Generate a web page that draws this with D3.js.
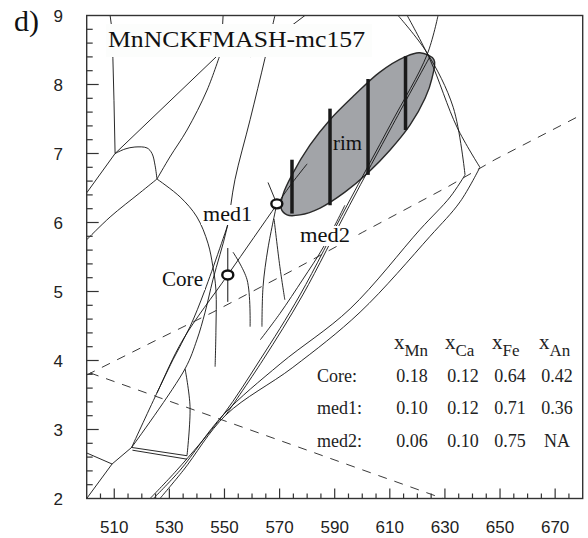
<!DOCTYPE html>
<html><head><meta charset="utf-8">
<script src="https://cdn.jsdelivr.net/npm/d3@7"></script>
<style>body{margin:0;background:#fff}</style>
</head><body>
<svg id="c" width="588" height="538"></svg>
<script>
// ---- data (T in °C, P in kbar) ----
const xTickLabels=[510,530,550,570,590,610,630,650,670];
const yTickLabels=[2,3,4,5,6,7,8,9];
const tableCols=["Mn","Ca","Fe","An"];
const tableRows=["Core:","med1:","med2:"];
const tableVals=[["0.18","0.12","0.64","0.42"],["0.10","0.12","0.71","0.36"],["0.06","0.10","0.75","NA"]];
const points=[{name:"med1",T:569.0,P:6.27},{name:"Core",T:551.2,P:5.24}];
const coreErr=[[551.2,5.63],[551.2,4.85]];
const rimEllipse=[[626.0,8.36],[625.3,8.09],[622.8,7.80],[617.3,7.41],[610.1,7.05],[602.1,6.72],[593.7,6.44],[584.7,6.21],[577.4,6.11],[572.7,6.11],[570.5,6.21],[571.2,6.40],[574.5,6.69],[581.0,7.12],[588.3,7.49],[597.3,7.85],[606.4,8.18],[615.5,8.40],[620.9,8.46]];
const rimBars=[[574.5,6.91,6.13],[588.3,7.65,6.25],[602.1,8.08,6.69],[615.7,8.41,7.34]];
const dashed1=[[500,3.79],[525.5,4.30],[545.8,4.70],[576.3,5.34],[600.2,5.86],[630.7,6.51],[648.1,6.91],[680,7.57]];
const dashed2=[[501.2,3.82],[629.3,2.0]];
const lineA=[[508.5,9.0],[509.2,8.79],[509.5,8.38],[509.9,7.77],[510.3,7.0]];
const lineB=[[510.3,7.0],[548.8,8.47],[549.5,9.0]];
const lineTop=[[559.3,8.40],[579.2,9.0]];
const lineC=[[525.5,6.63],[530.2,6.95],[536.4,7.34],[543.7,7.92],[548.7,8.47]];
const lineD=[[510.3,7.0],[500,6.43]];
const lineE=[[510.3,7.0],[513.9,7.065],[517.5,7.094],[521.9,7.08],[523.7,7.0],[524.8,6.83],[525.5,6.63]];
const lineF=[[525.5,6.63],[519.3,6.43],[508.5,6.08],[500,5.75]];
const lineG=[[525.5,6.63],[533.9,6.37],[540.0,6.08],[544.0,5.70],[545.8,5.36],[546.9,5.02],[546.9,4.44],[546.6,3.91]];
const lineH=[[568.3,9.0],[564.7,8.38],[559.3,7.49],[553.8,6.62],[550.9,5.92],[545.8,5.17],[542.9,4.69],[540.0,4.30],[535.7,3.88],[516.3,2.74]];
const lineH2=[[551.6,6.01],[542.9,5.02],[537.5,4.49],[531.3,4.01],[525.5,3.53]];
const lineCoreMed=[[516.3,2.74],[525.5,3.53],[534.9,4.30],[551.2,5.24],[569.0,6.26],[574.5,6.57],[580.0,6.85]];
const lineMedV=[[565.8,6.58],[569.0,6.27]];
const lineMedA=[[569.0,6.27],[565.8,5.63],[564.0,5.07],[563.6,4.49]];
const lineMedB=[[568.0,6.05],[570.1,5.36],[571.9,4.88]];
const lineMedC=[[553.1,5.57],[558.2,5.17],[559.3,4.49]];
const lineMed2=[[563.0,4.30],[570.1,4.68],[578.5,5.18],[585.7,5.63],[593.7,6.25]];
const lineJ3a=[[500,2.66],[509.2,2.50]];
const lineJ3b=[[500,2.0],[509.2,2.50],[516.3,2.74]];
const lineJ45a=[[516.3,2.74],[536.4,2.62]];
const lineJ45b=[[516.6,2.70],[536.4,2.57]];
const lineJ56=[[536.4,2.62],[537.5,3.33],[535.7,3.88]];
const bundle1=[[523.0,2.0],[532.7,2.41],[549.5,3.21],[562.9,4.01],[577.4,4.95],[594.5,6.25],[610.1,7.41],[623.5,8.43],[627.5,9.0]];
const bundle1b=[[550.5,3.21],[564.0,4.01],[578.4,4.95],[595.4,6.25],[611.0,7.41],[624.5,8.40]];
const bundle2=[[524.2,2.0],[533.9,2.41],[549.5,3.21],[570.2,3.95],[595.6,4.75],[621.0,5.90],[631.9,6.37],[637.3,6.69]];
const bundle2top=[[637.3,6.69],[633.0,7.67],[623.5,8.46],[613.0,9.0]];
const bundle3=[[526.6,2.0],[535.1,2.41],[550.5,3.21],[574.8,3.90],[599.2,4.70],[624.6,5.80],[635.5,6.30],[642.7,6.80]];
const bundle3top=[[642.7,6.80],[634.4,7.38],[624.6,8.36],[616.3,9.0]];

// ---- setup ----
const svg=d3.select("#c");
const x=d3.scaleLinear().domain([500,680]).range([86.7,582.7]);
const y=d3.scaleLinear().domain([2,9]).range([498.5,15.5]);
const line=d3.line().x(d=>x(d[0])).y(d=>y(d[1]));
const curve=d3.line().x(d=>x(d[0])).y(d=>y(d[1])).curve(d3.curveCatmullRom.alpha(0.5));
const closed=d3.line().x(d=>x(d[0])).y(d=>y(d[1])).curve(d3.curveCatmullRomClosed.alpha(0.5));

const g=svg.append("g");
g.append("path").attr("d",closed(rimEllipse)).attr("fill","#a2a4a8").attr("stroke","#2a2a2a").attr("stroke-width",1.4);

const thin=[lineA,lineB,lineTop,lineD,lineJ3a,lineJ3b,lineJ45a,lineJ45b,lineMedV];
const curvy=[lineC,lineE,lineF,lineG,lineH,lineH2,lineCoreMed,lineJ56,bundle1,bundle1b,bundle2,bundle2top,bundle3,bundle3top,lineMedA,lineMedB,lineMedC,lineMed2];
thin.forEach(l=>g.append("path").attr("d",line(l)).attr("fill","none").attr("stroke","#111").attr("stroke-width",0.9));
curvy.forEach(l=>g.append("path").attr("d",curve(l)).attr("fill","none").attr("stroke","#111").attr("stroke-width",0.9));
[dashed1,dashed2].forEach(l=>g.append("path").attr("d",line(l)).attr("fill","none").attr("stroke","#222").attr("stroke-width",0.9).attr("stroke-dasharray","9,8"));

rimBars.forEach(b=>g.append("line").attr("x1",x(b[0])).attr("x2",x(b[0])).attr("y1",y(b[1])).attr("y2",y(b[2])).attr("stroke","#1a1a1a").attr("stroke-width",3.5));
g.append("path").attr("d",line(coreErr)).attr("stroke","#111").attr("stroke-width",1);

function label(txt,x0,yb,w,size,bg){
  if(bg) svg.append("rect").attr("x",x0-2).attr("y",yb-size*0.8).attr("width",w+4).attr("height",size*1.0).attr("fill",bg);
  svg.append("text").attr("x",x0).attr("y",yb).attr("font-family","Liberation Serif, Times New Roman, serif").attr("font-size",size).attr("fill","#111").attr("textLength",w).attr("lengthAdjust","spacingAndGlyphs").text(txt);
}
svg.append("rect").attr("x",106).attr("y",24).attr("width",266).attr("height",33).attr("fill","#fcfdfc");
label("MnNCKFMASH-mc157",108,47,257,23,null);
label("med1",203,221,49,20,"#fff");
label("Core",162,286,41,20,"#fff");
label("med2",300,242,50,20,"#fff");
label("rim",333,150,29,20,null);

points.forEach(p=>svg.append("ellipse").attr("cx",x(p.T)).attr("cy",y(p.P)).attr("rx",5.5).attr("ry",4.5).attr("fill","#fff").attr("stroke","#111").attr("stroke-width",2.4));

svg.append("rect").attr("x",x(500)).attr("y",y(9)).attr("width",x(680)-x(500)).attr("height",y(2)-y(9)).attr("fill","none").attr("stroke","#333").attr("stroke-width",1.4);
const ax=svg.append("g").attr("stroke","#333").attr("stroke-width",1.2);
d3.range(505,680,5).forEach(t=>{const major=xTickLabels.includes(t);ax.append("line").attr("x1",x(t)).attr("x2",x(t)).attr("y1",y(2)).attr("y2",y(2)-(major?10:5));});
d3.range(2.2,9,0.2).forEach(p=>{const major=Math.abs(p-Math.round(p))<0.01;ax.append("line").attr("x1",x(500)).attr("x2",x(500)+(major?12:6)).attr("y1",y(p)).attr("y2",y(p));});
xTickLabels.forEach(t=>svg.append("text").attr("x",x(t)).attr("y",533).attr("text-anchor","middle").attr("font-family","Liberation Sans, Arial, sans-serif").attr("font-size",17).attr("fill","#222").text(t));
yTickLabels.forEach(p=>svg.append("text").attr("x",63).attr("y",y(p)+6).attr("text-anchor","end").attr("font-family","Liberation Sans, Arial, sans-serif").attr("font-size",17).attr("fill","#222").text(p));
svg.append("text").attr("x",14).attr("y",31).attr("font-family","Liberation Serif, Times New Roman, serif").attr("font-size",30).attr("fill","#111").text("d)");

const colX=[412,463,510,557];
tableCols.forEach((c,i)=>{
  const t=svg.append("text").attr("x",colX[i]-18).attr("y",349).attr("font-family","Liberation Serif, Times New Roman, serif").attr("fill","#222");
  t.append("tspan").attr("font-size",21).text("x");
  t.append("tspan").attr("font-size",17).attr("dy",7).text(c);
});
tableRows.forEach((r,j)=>{
  const yb=381.5+j*32.5;
  svg.append("text").attr("x",317).attr("y",yb).attr("font-family","Liberation Serif, Times New Roman, serif").attr("font-size",18).attr("fill","#222").text(r);
  tableVals[j].forEach((v,i)=>svg.append("text").attr("x",colX[i]).attr("y",yb).attr("text-anchor","middle").attr("font-family","Liberation Serif, Times New Roman, serif").attr("font-size",18).attr("fill","#222").text(v));
});
</script>
</body></html>
